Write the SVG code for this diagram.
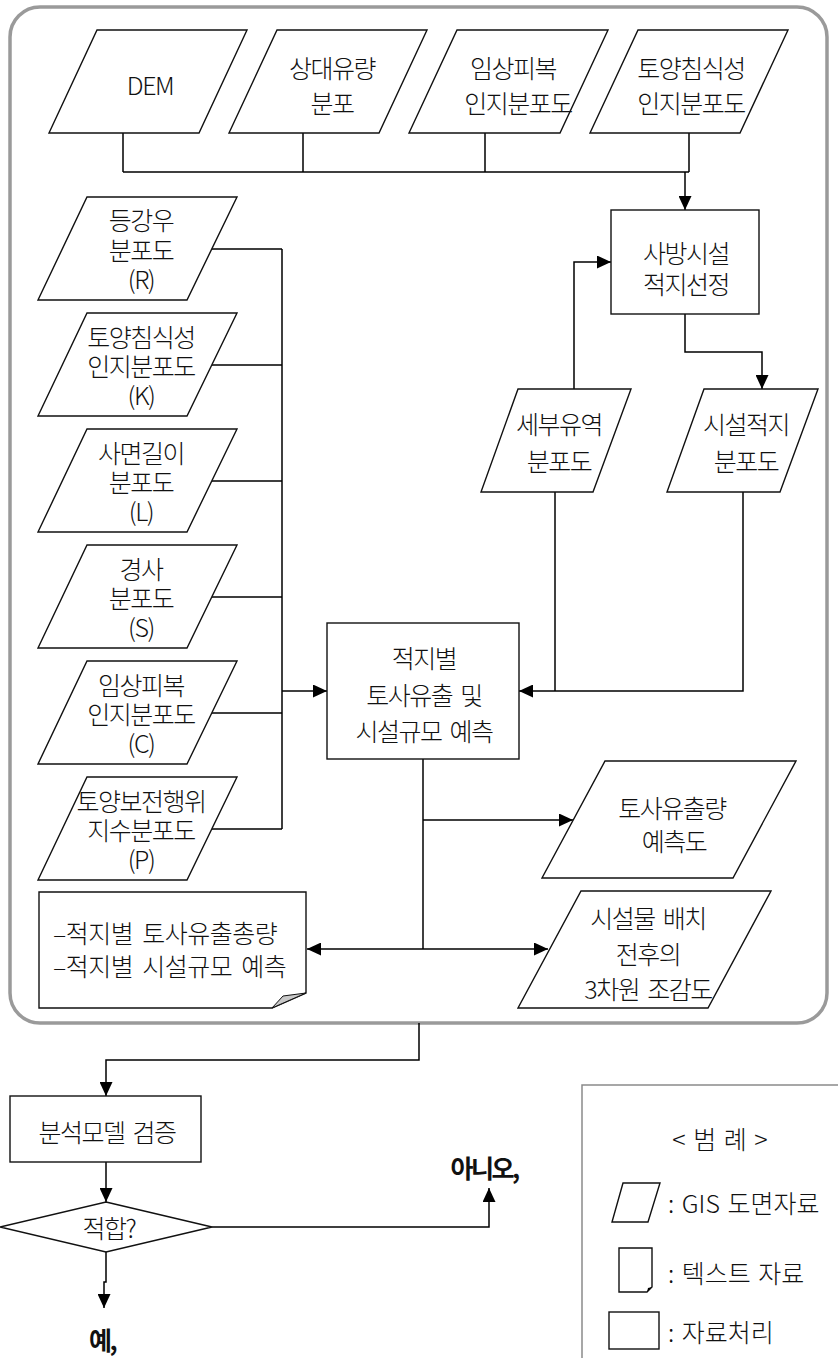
<svg xmlns="http://www.w3.org/2000/svg" width="838" height="1367" viewBox="0 0 838 1367">
  <defs>
    <marker id="ah" viewBox="0 0 14 13" refX="14" refY="6.5" markerWidth="14" markerHeight="13" markerUnits="userSpaceOnUse" orient="auto">
      <path d="M0,0 L14,6.5 L0,13 z" fill="#000"/>
    </marker>
  </defs>
  <style>
    .shape { fill: #fff; stroke: #111; stroke-width: 1.4; }
    .t { font-family: "Noto Sans CJK KR", "Noto Sans", sans-serif; font-size: 25px; font-weight: 300; letter-spacing: -1.5px; word-spacing: 4px; fill: #111; text-anchor: middle; dominant-baseline: central; }
    .ts { text-anchor: start; }
    .doc { letter-spacing: -0.5px; }
    .lg { letter-spacing: 0; word-spacing: 2px; }
    .b { font-weight: 700; letter-spacing: -2.5px; }
    .c { fill: none; stroke: #000; stroke-width: 1.5; }
    .ca { fill: none; stroke: #000; stroke-width: 1.5; marker-end: url(#ah); }
    .frame { fill: none; stroke: #9a9a9a; stroke-width: 3.5; }
    .legend { fill: none; stroke: #8a8a8a; stroke-width: 1.5; }
  </style>

  <!-- model boundary -->
  <rect class="frame" x="10" y="7" width="817" height="1016" rx="30"/>

  <!-- connectors -->
  <g id="connectors">
    <path class="c" d="M123,133 V172 M303,133 V172 M485,133 V172 M689,133 V172 M123,172 H689"/>
    <path class="ca" d="M685,172 V210"/>
    <path class="c" d="M212,249 H282 M212,365 H282 M212,481 H282 M212,597 H282 M212,713 H282 M212,829 H282 M282,249 V829"/>
    <path class="ca" d="M282,691 H327"/>
    <path class="ca" d="M574,389 V262 H611"/>
    <path class="ca" d="M685,314 V352 H762 V389"/>
    <path class="c" d="M555,492 V691"/>
    <path class="ca" d="M743,492 V691 H519"/>
    <path class="c" d="M423,759 V949"/>
    <path class="ca" d="M423,820 H573"/>
    <path class="ca" d="M423,949 H307"/>
    <path class="ca" d="M423,949 H548"/>
    <path class="ca" d="M419,1023 V1060 H106 V1096"/>
    <path class="ca" d="M106,1162 V1202"/>
    <path class="ca" d="M212,1227 H489 V1188"/>
    <path class="ca" d="M106,1252 V1282 H104 V1308"/>
  </g>

  <!-- top row: GIS input layers -->
  <g id="dem">
    <polygon class="shape" points="97,30 247,30 199,133 49,133"/>
    <text class="t" x="150" y="84">DEM</text>
  </g>
  <g id="relative-flow">
    <polygon class="shape" points="277,30 427,30 379,133 229,133"/>
    <text class="t" x="332" y="67">상대유량</text>
    <text class="t" x="332" y="102">분포</text>
  </g>
  <g id="cover-factor-top">
    <polygon class="shape" points="457,30 608,30 560,133 409,133"/>
    <text class="t" x="513" y="67">임상피복</text>
    <text class="t" x="518" y="102">인지분포도</text>
  </g>
  <g id="erodibility-top">
    <polygon class="shape" points="638,30 788,30 740,133 590,133"/>
    <text class="t" x="691" y="67">토양침식성</text>
    <text class="t" x="691" y="102">인지분포도</text>
  </g>

  <!-- left column: USLE factor layers -->
  <g id="factor-r">
    <polygon class="shape" points="87,197 237,197 187,300 38,300"/>
    <text class="t" x="141" y="219">등강우</text>
    <text class="t" x="141" y="249">분포도</text>
    <text class="t" x="141" y="278">(R)</text>
  </g>
  <g id="factor-k">
    <polygon class="shape" points="87,313 237,313 187,416 38,416"/>
    <text class="t" x="141" y="336">토양침식성</text>
    <text class="t" x="141" y="365">인지분포도</text>
    <text class="t" x="141" y="394">(K)</text>
  </g>
  <g id="factor-l">
    <polygon class="shape" points="87,429 237,429 187,532 38,532"/>
    <text class="t" x="141" y="452">사면길이</text>
    <text class="t" x="141" y="481">분포도</text>
    <text class="t" x="141" y="510">(L)</text>
  </g>
  <g id="factor-s">
    <polygon class="shape" points="87,545 237,545 187,648 38,648"/>
    <text class="t" x="141" y="568">경사</text>
    <text class="t" x="141" y="597">분포도</text>
    <text class="t" x="141" y="626">(S)</text>
  </g>
  <g id="factor-c">
    <polygon class="shape" points="87,661 237,661 187,764 38,764"/>
    <text class="t" x="141" y="684">임상피복</text>
    <text class="t" x="141" y="713">인지분포도</text>
    <text class="t" x="141" y="742">(C)</text>
  </g>
  <g id="factor-p">
    <polygon class="shape" points="87,777 237,777 187,880 38,880"/>
    <text class="t" x="141" y="800">토양보전행위</text>
    <text class="t" x="141" y="829">지수분포도</text>
    <text class="t" x="141" y="858">(P)</text>
  </g>

  <!-- site selection -->
  <g id="site-selection">
    <rect class="shape" x="611" y="210" width="148" height="104"/>
    <text class="t" x="686" y="252">사방시설</text>
    <text class="t" x="686" y="283">적지선정</text>
  </g>
  <g id="subbasin">
    <polygon class="shape" points="518,389 631,389 593,492 481,492"/>
    <text class="t" x="559" y="423">세부유역</text>
    <text class="t" x="559" y="460">분포도</text>
  </g>
  <g id="site-map">
    <polygon class="shape" points="704,389 818,389 780,492 667,492"/>
    <text class="t" x="746" y="423">시설적지</text>
    <text class="t" x="746" y="460">분포도</text>
  </g>

  <!-- sediment yield estimation -->
  <g id="estimation">
    <rect class="shape" x="327" y="623" width="192" height="136"/>
    <text class="t" x="424" y="657">적지별</text>
    <text class="t" x="424" y="694">토사유출 및</text>
    <text class="t" x="424" y="730">시설규모 예측</text>
  </g>
  <g id="sediment-map">
    <polygon class="shape" points="605,761 796,761 733,878 542,878"/>
    <text class="t" x="672" y="807">토사유출량</text>
    <text class="t" x="674" y="840">예측도</text>
  </g>
  <g id="birdseye">
    <polygon class="shape" points="581,891 771,891 708,1008 518,1008"/>
    <text class="t" x="648" y="917">시설물 배치</text>
    <text class="t" x="648" y="953">전후의</text>
    <text class="t" x="648" y="988">3차원 조감도</text>
  </g>
  <g id="report">
    <path class="shape" d="M39,892 H306 V993 L272,1008 H39 Z"/>
    <polygon points="272,1008 283,996 306,993" fill="#c8c8c8" stroke="#111" stroke-width="1"/>
    <text class="t ts doc" x="53" y="932">–적지별 토사유출총량</text>
    <text class="t ts doc" x="53" y="965">–적지별 시설규모 예측</text>
  </g>

  <!-- validation -->
  <g id="validation">
    <rect class="shape" x="10" y="1096" width="191" height="66"/>
    <text class="t" x="107" y="1131">분석모델 검증</text>
  </g>
  <g id="fit-check">
    <polygon class="shape" points="106,1202 212,1227 106,1252 0,1227"/>
    <text class="t" x="109" y="1227">적합?</text>
  </g>
  <g id="answer-no">
    <text class="t b" x="484" y="1167">아니오,</text>
  </g>
  <g id="answer-yes">
    <text class="t b" x="102" y="1339">예,</text>
  </g>

  <!-- legend -->
  <g id="legend">
    <path class="legend" d="M582,1358 V1085 H840"/>
    <text class="t lg" x="720" y="1138">&lt; 범 례 &gt;</text>
    <polygon class="shape" points="623,1183 660,1183 648,1222 612,1222"/>
    <text class="t ts lg" x="668" y="1202">: GIS 도면자료</text>
    <path class="shape" d="M619,1248 H652 V1287 L647,1292 H619 Z"/>
    <polygon points="647,1292 652,1287 648,1288" fill="#000"/>
    <text class="t ts lg" x="668" y="1272">: 텍스트 자료</text>
    <rect class="shape" x="609" y="1312" width="50" height="37"/>
    <text class="t ts lg" x="668" y="1331">: 자료처리</text>
  </g>
</svg>
